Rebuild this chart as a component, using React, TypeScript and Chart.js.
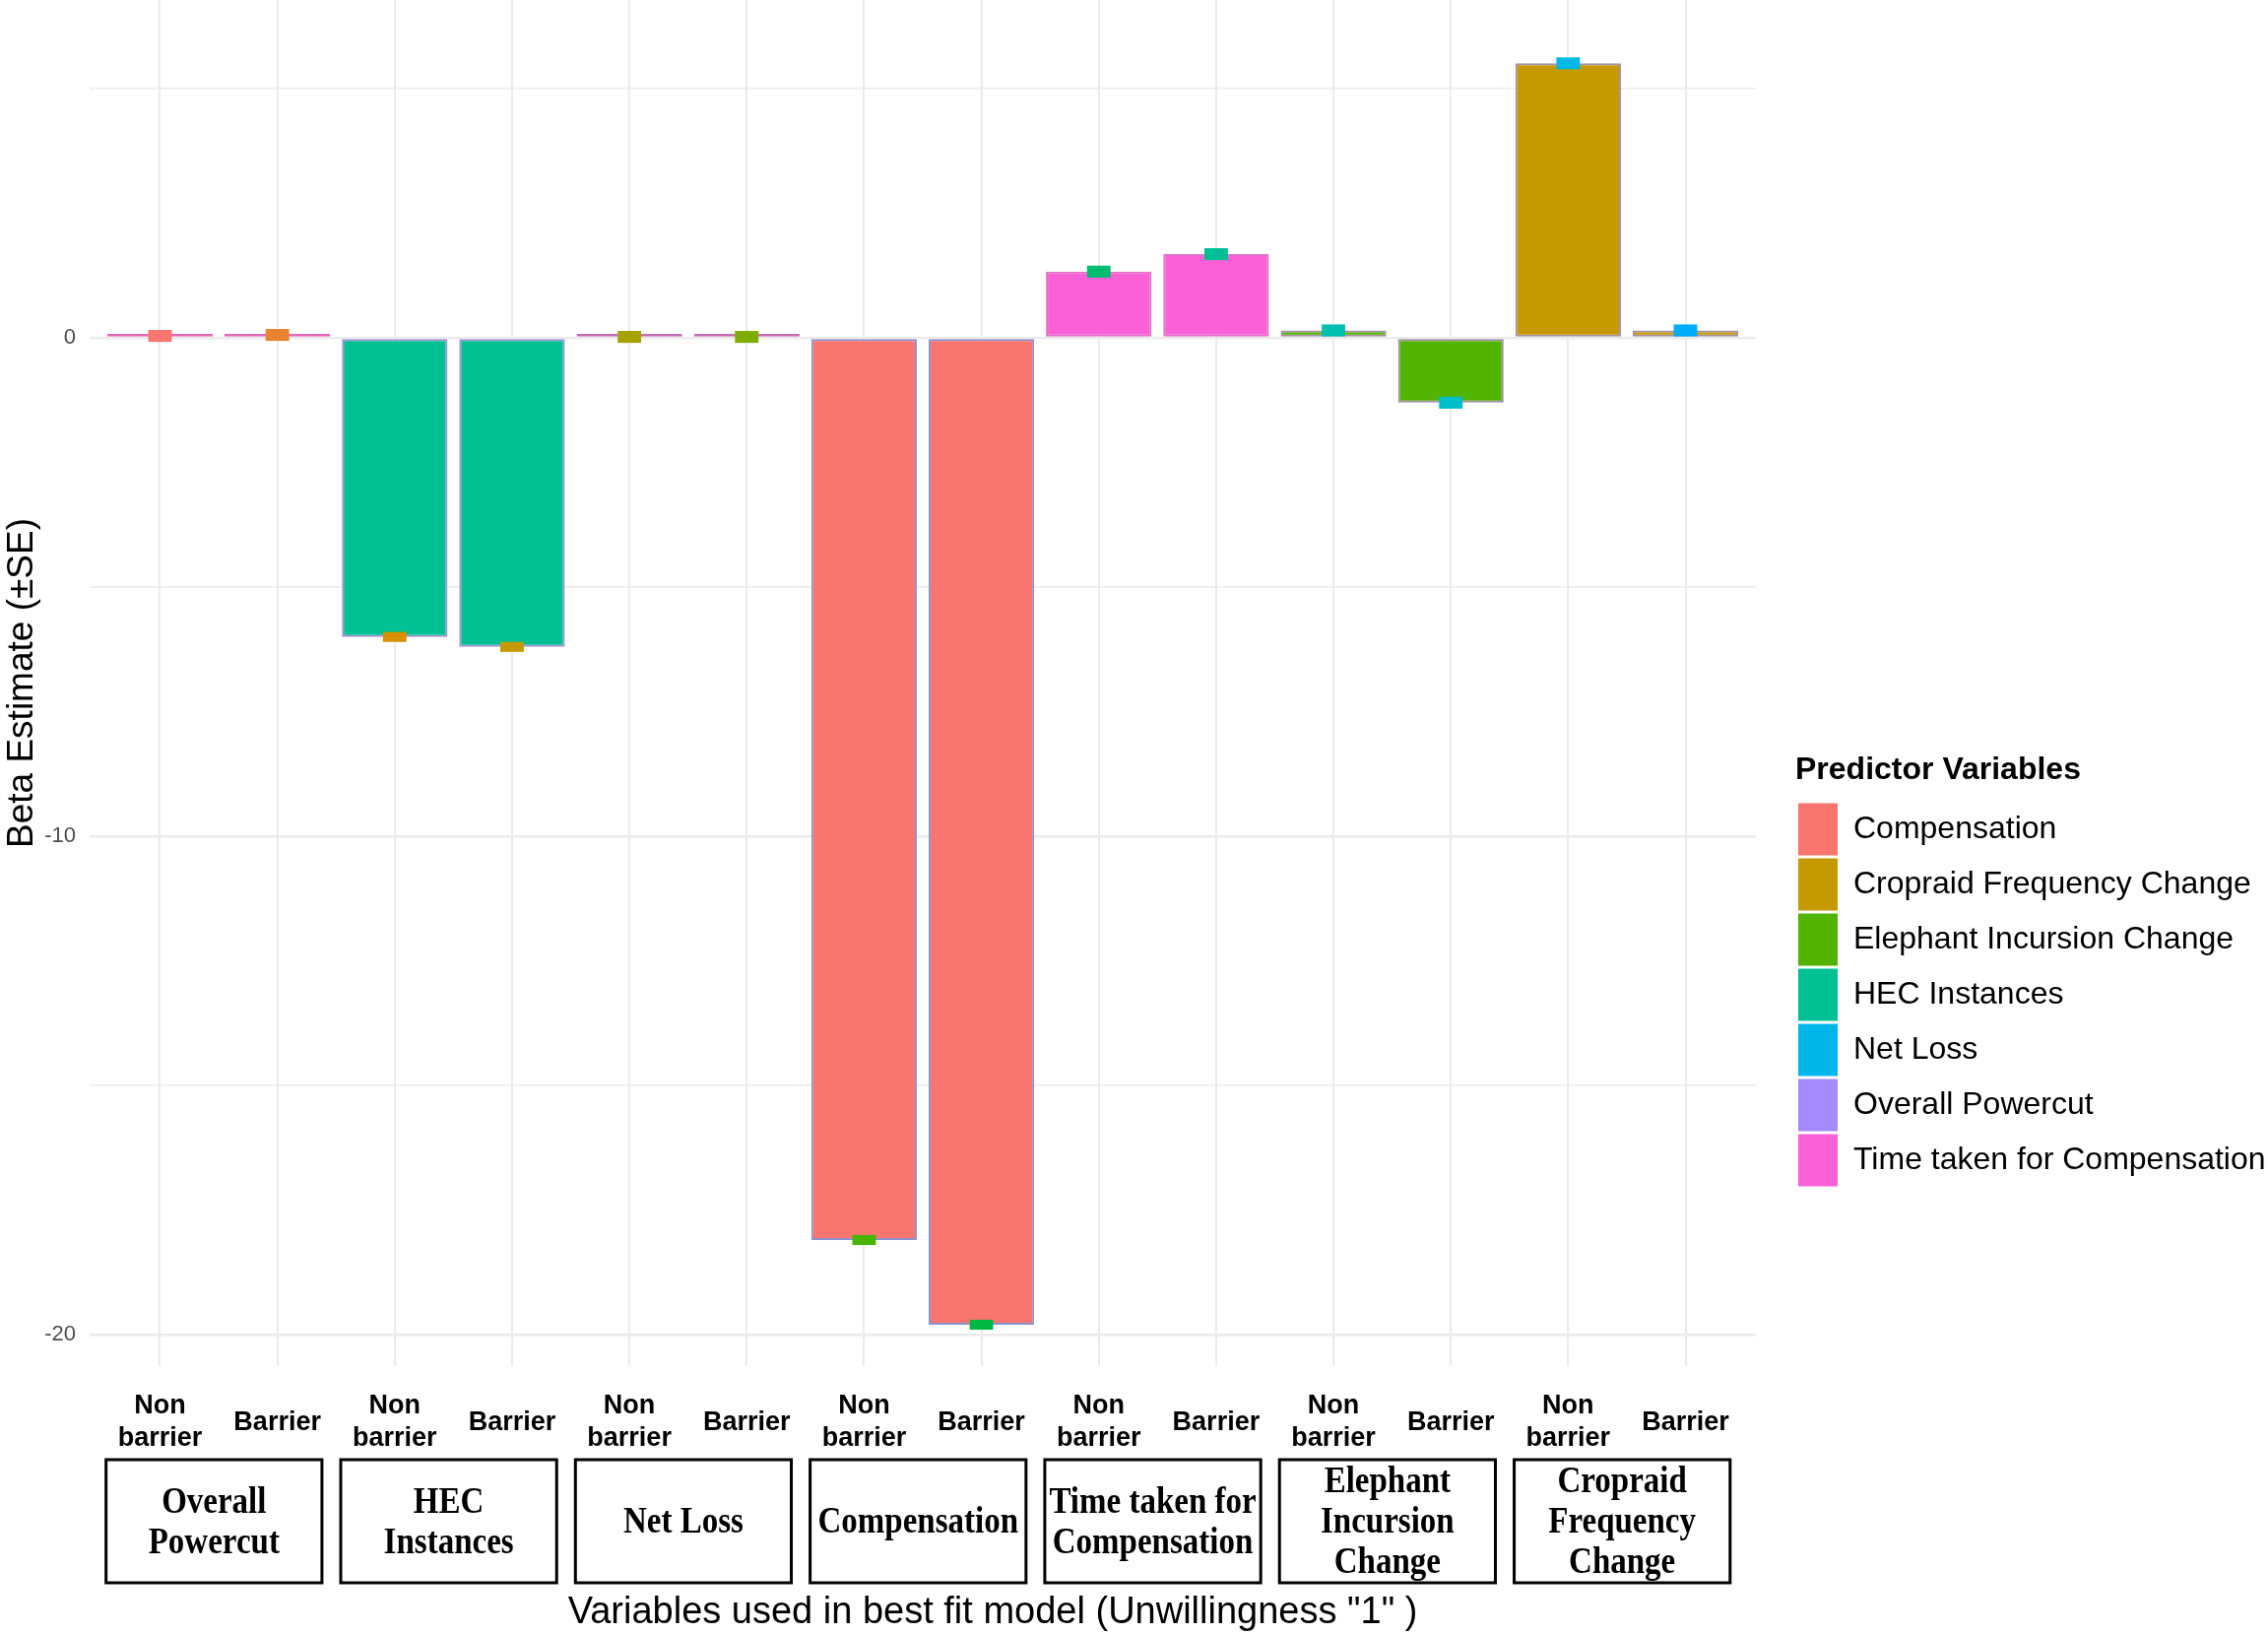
import { useEffect, useRef } from "react";
import Chart, { ChartConfiguration, Plugin } from "chart.js/auto";

// Data
const groups = [
  "Overall Powercut",
  "HEC Instances",
  "Net Loss",
  "Compensation",
  "Time taken for Compensation",
  "Elephant Incursion Change",
  "Cropraid Frequency Change",
];
const groupBoxLines = [
  ["Overall", "Powercut"],
  ["HEC", "Instances"],
  ["Net Loss"],
  ["Compensation"],
  ["Time taken for", "Compensation"],
  ["Elephant", "Incursion", "Change"],
  ["Cropraid", "Frequency", "Change"],
];
const conditionLabels = [["Non", "barrier"], ["Barrier"]];
const betas = [0.04, 0.06, -6.0, -6.2, 0.02, 0.02, -18.1, -19.8, 1.33, 1.68, 0.15, -1.3, 5.51, 0.15];
const se = [0.12, 0.12, 0.1, 0.1, 0.12, 0.12, 0.1, 0.1, 0.12, 0.12, 0.12, 0.12, 0.12, 0.12];
const legendLabels = [
  "Compensation",
  "Cropraid Frequency Change",
  "Elephant Incursion Change",
  "HEC Instances",
  "Net Loss",
  "Overall Powercut",
  "Time taken for Compensation",
];
const yTicks = [-20, -15, -10, -5, 0, 5];
const xTitle = 'Variables used in best fit model (Unwillingness "1" )';

// Styling
const legendColors = ["#F8766D", "#C49A00", "#53B400", "#00C094", "#00B6EB", "#A58AFF", "#FB61D7"];
const errColors = [
  "#F8766D", "#EA8331", "#D89000", "#C49A00", "#A5A100", "#80AC00", "#45B500",
  "#00B840", "#00BC70", "#00BF96", "#00C0B2", "#00BEC8", "#00B8E5", "#00ADFA",
];
const barBorders = [
  "#E668B8", "#E668B8", "#A792D6", "#A792D6", "#C76CB3", "#C76CB3", "#8C92CF",
  "#8C92CF", "#E070C8", "#E070C8", "#A58FA8", "#A58FA8", "#A58FA8", "#A58FA8",
];

const barIndex = betas.map((_, i) => i);
const colorOf = (name: string) => legendColors[legendLabels.indexOf(name)];

const noPadding = (scale: any) => {
  scale.paddingTop = 0;
  scale.paddingBottom = 0;
  scale.paddingLeft = 0;
  scale.paddingRight = 0;
};

const groupBoxes: Plugin<"bar"> = {
  id: "groupBoxes",
  afterDraw(chart) {
    const { ctx, chartArea } = chart;
    const xs = chart.scales.x;
    const top = xs.top + 95;
    const h = 125;
    ctx.save();
    ctx.lineWidth = 3;
    ctx.strokeStyle = "#000";
    ctx.fillStyle = "#000";
    ctx.textAlign = "center";
    ctx.textBaseline = "middle";
    ctx.font = "bold 33px 'Liberation Serif'";
    groupBoxLines.forEach((lines, g) => {
      const l = xs.getPixelForValue(g * 2 - 0.46);
      const r = xs.getPixelForValue(g * 2 + 1.38);
      ctx.strokeRect(l, top, r - l, h);
      const cx = (l + r) / 2;
      const cy = top + h / 2 + 2;
      lines.forEach((line, k) => {
        const y = cy + (k - (lines.length - 1) / 2) * 41;
        ctx.save();
        ctx.translate(cx, y);
        ctx.scale(1, 1.15);
        ctx.fillText(line, 0, 0);
        ctx.restore();
      });
    });
    ctx.font = "38px 'Liberation Sans'";
    ctx.textBaseline = "alphabetic";
    ctx.fillText(xTitle, (chartArea.left + chartArea.right) / 2 + 71, chart.height - 11);
    ctx.restore();
  },
};

const BetaChart = () => {
  const chartRef = useRef<HTMLCanvasElement | null>(null);
  const chartInstance = useRef<Chart | null>(null);

  useEffect(() => {
    if (!chartRef.current) return;
    if (chartInstance.current) chartInstance.current.destroy();
    const ctx = chartRef.current.getContext("2d");
    if (!ctx) return;

    Chart.defaults.font.family = "'Liberation Sans', Arial, sans-serif";

    const config: ChartConfiguration<"bar"> = {
      type: "bar",
      data: {
        datasets: [
          {
            label: "SE",
            data: betas.map((v, i) => ({ x: i, y: [v - se[i], v + se[i]] })) as any,
            backgroundColor: errColors,
            borderWidth: 0,
            barPercentage: 0.2,
            categoryPercentage: 1,
            grouped: false,
            order: 0,
            xAxisID: "x",
            yAxisID: "y",
          },
          {
            label: "Beta",
            data: betas.map((v, i) => ({ x: i, y: v })) as any,
            backgroundColor: betas.map((_, i) => colorOf(groups[Math.floor(i / 2)])),
            borderColor: barBorders,
            borderWidth: 2,
            borderSkipped: false,
            minBarLength: 4,
            barPercentage: 0.9,
            categoryPercentage: 1,
            grouped: false,
            order: 1,
            xAxisID: "x",
            yAxisID: "y",
          },
        ],
      },
      options: {
        animation: false,
        responsive: true,
        maintainAspectRatio: false,
        layout: { padding: 0 },
        scales: {
          x: {
            type: "linear",
            min: -0.6,
            max: 13.6,
            offset: false,
            afterBuildTicks: (scale) => {
              scale.ticks = barIndex.map((v) => ({ value: v }));
            },
            afterFit: (scale) => {
              scale.height = 272;
              noPadding(scale);
            },
            grid: { color: "#EBEBEB", lineWidth: 2, drawTicks: false, offset: false },
            border: { display: false },
            ticks: {
              autoSkip: false,
              maxRotation: 0,
              padding: 41,
              crossAlign: "center",
              color: "#000",
              font: { size: 27, weight: "bold", lineHeight: 1.2 },
              callback: (v) => conditionLabels[Number(v) % 2],
            },
          },
          y: {
            type: "linear",
            position: "left",
            min: -20.63,
            max: 6.78,
            afterBuildTicks: (scale) => {
              scale.ticks = yTicks.map((v) => ({ value: v }));
            },
            afterFit: (scale) => {
              scale.width = 91;
              noPadding(scale);
            },
            grid: {
              color: "#EBEBEB",
              lineWidth: (c) => (c.tick && c.tick.value % 10 === 0 ? 2.5 : 1.6),
              drawTicks: false,
            },
            border: { display: false },
            ticks: {
              padding: 14,
              color: "#4D4D4D",
              font: { size: 22 },
              callback: (v) => (Number(v) % 10 === 0 ? String(v) : ""),
            },
            title: {
              display: true,
              text: "Beta Estimate (±SE)",
              color: "#000",
              font: { size: 37 },
              padding: { top: 1, bottom: 0 },
            },
          },
          pad: {
            type: "linear",
            position: "right",
            display: true,
            grid: { display: false },
            border: { display: false },
            ticks: { display: false },
            afterFit: (scale) => {
              scale.width = 40;
              noPadding(scale);
            },
          },
        },
        plugins: {
          tooltip: { enabled: false },
          legend: {
            position: "right",
            align: "start",
            maxWidth: 480,
            onClick: () => {},
            title: {
              display: true,
              text: "Predictor Variables",
              position: "start",
              color: "#000",
              font: { size: 32, weight: "bold" },
              padding: { top: 766, bottom: 8 },
            },
            labels: {
              boxWidth: 40,
              boxHeight: 53,
              padding: 3,
              color: "#000",
              font: { size: 32 },
              generateLabels: () =>
                legendLabels.map((text, i) => ({
                  text,
                  fillStyle: legendColors[i],
                  strokeStyle: legendColors[i],
                  lineWidth: 0,
                  hidden: false,
                  index: i,
                  datasetIndex: 1,
                })),
            },
          },
        },
      },
      plugins: [groupBoxes],
    };

    chartInstance.current = new Chart(ctx, config);

    return () => {
      chartInstance.current?.destroy();
    };
  }, []);

  return (
    <div style={{ position: "fixed", left: 0, top: 0, width: "2303px", height: "1659px", background: "#fff" }}>
      <canvas ref={chartRef} />
    </div>
  );
};

export default function App() {
  return <BetaChart />;
}
